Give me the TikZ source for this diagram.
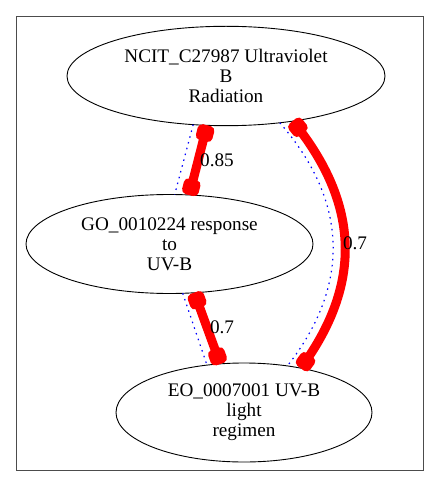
\documentclass[tikz,border=0pt]{standalone}
\usepackage{fontspec}
\setmainfont{Liberation Serif}
\newfontfamily\termfont{Liberation Serif}
\usetikzlibrary{shapes.geometric}
\tikzset{
  term/.style={ellipse,draw=black,line width=0.9pt,inner sep=0pt,outer sep=0pt,align=center,
    font=\termfont\fontsize{19.2}{20}\selectfont},
  sim/.style={draw=red,line width=9pt},
  blobnode/.style={fill=red,rounded corners=4.5pt,minimum width=16pt,minimum height=17pt,inner sep=0pt,outer sep=0pt,sloped,allow upside down},
  link/.style={draw=blue,line width=1.2pt,dash pattern=on 1.5pt off 4.5pt},
  wlabel/.style={font=\termfont\fontsize{19.2}{20}\selectfont,inner sep=0pt},
  frame/.style={draw=black!70,line width=1.3pt}
}
\begin{document}
\begin{tikzpicture}[x=1pt,y=-1pt]
\useasboundingbox (0,0) rectangle (439,489);
\node[frame,minimum width=406.8pt,minimum height=454.3pt,inner sep=0pt,anchor=north west] (box) at (15.7,15.7) {};
\node[term,minimum width=318pt,minimum height=99.4pt] (T) at (226,76) {NCIT\_C27987 Ultraviolet\\B\\Radiation};
\node[term,minimum width=287pt,minimum height=99pt] (M) at (169.5,244) {GO\_0010224 response\\to\\UV-B};
\node[term,minimum width=256pt,minimum height=99pt] (B) at (244,412.5) {EO\_0007001 UV-B\\light\\regimen};
% blue dotted links
\draw[link] (T.236) -- (M.84);
\draw[link] (M.285) -- (B.128);
\draw[link] (T.319) .. controls +(69.5,80) and +(62.5,-80) .. (B.47.6);
% red weighted edges
\draw[sim] (T.249) -- node[blobnode,pos=0,anchor=west]{} node[blobnode,pos=1,anchor=east]{} (M.68);
\draw[sim] (M.297.6) -- node[blobnode,pos=0,anchor=west]{} node[blobnode,pos=1,anchor=east]{} (B.116.3);
\draw[sim] (T.326) .. controls +(68,84) and +(61,-83) .. node[blobnode,pos=0,anchor=west]{} node[blobnode,pos=1,anchor=east]{} (B.38.5);
% labels
\node[wlabel] (l1) at (217,160) {0.85};
\node[wlabel] (l2) at (222,327.5) {0.7};
\node[wlabel] (l3) at (355,243) {0.7};
\end{tikzpicture}
\end{document}
